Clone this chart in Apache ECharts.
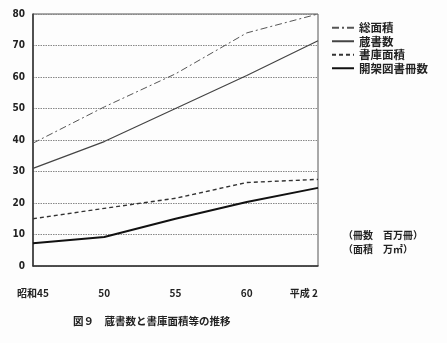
<!DOCTYPE html>
<html><head><meta charset="utf-8">
<script src="https://cdn.jsdelivr.net/npm/echarts@6/dist/echarts.min.js"></script>
<style>html,body{margin:0;padding:0;background:#fdfdfd}#c{width:447px;height:343px}</style>
</head><body><div id="c"></div>
<script>
const categories = ['昭和45', '50', '55', '60', '平成 2'];
const totalArea = [39, 50.5, 61, 74, 80];      // 総面積
const holdings = [31, 39.5, 50, 60.5, 71.5];   // 蔵書数
const stackArea = [15, 18.3, 21.5, 26.5, 27.5]; // 書庫面積
const openShelf = [7.2, 9.2, 15, 20.3, 24.8];  // 開架図書冊数
const yTicks = [0, 10, 20, 30, 40, 50, 60, 70, 80];

const jp = '"Noto Sans CJK JP", sans-serif';
const chart = echarts.init(document.getElementById('c'));
chart.setOption({
  backgroundColor: '#fdfdfd',
  animation: false,
  grid: {left: 33, right: 129, top: 14, bottom: 77, show: true, borderColor: '#555', borderWidth: 1, backgroundColor: 'transparent'},
  legend: {
    orient: 'vertical', left: 326, top: 17, itemGap: 2, itemWidth: 22, itemHeight: 10,
    itemStyle: {color: 'transparent', borderColor: 'transparent', borderWidth: 0},
    textStyle: {fontFamily: jp, fontSize: 11.5, color: '#222', fontWeight: 'bold'},
    data: ['総面積', '蔵書数', '書庫面積', '開架図書冊数']
  },
  xAxis: {
    type: 'category', data: categories, boundaryGap: false,
    axisLine: {lineStyle: {color: '#333', width: 1.5}},
    axisTick: {show: false},
    axisLabel: {margin: 22, fontFamily: jp, fontSize: 10, color: '#222', fontWeight: 'bold', alignMaxLabel: 'right'}
  },
  yAxis: {
    type: 'value', min: 0, max: 80, interval: 10,
    axisLine: {show: true, lineStyle: {color: '#333', width: 1.5}},
    axisTick: {show: false},
    axisLabel: {margin: 8, fontFamily: '"DejaVu Sans Condensed", sans-serif', fontSize: 10, color: '#222', fontWeight: 'bold',
      formatter: v => yTicks.includes(v) ? String(v) : ''},
    splitLine: {lineStyle: {color: '#888', type: [1.5, 1], width: 1}}
  },
  series: [
    {name: '総面積', type: 'line', data: totalArea, symbol: 'none',
      lineStyle: {color: '#555', width: 1, type: [7, 3, 2, 3]}, itemStyle: {color: '#555'}},
    {name: '蔵書数', type: 'line', data: holdings, symbol: 'none',
      lineStyle: {color: '#444', width: 1.2}, itemStyle: {color: '#444'}},
    {name: '書庫面積', type: 'line', data: stackArea, symbol: 'none',
      lineStyle: {color: '#333', width: 1.4, type: [4, 3]}, itemStyle: {color: '#333'}},
    {name: '開架図書冊数', type: 'line', data: openShelf, symbol: 'none',
      lineStyle: {color: '#111', width: 2}, itemStyle: {color: '#111'}}
  ],
  graphic: [
    {type: 'text', left: 343, top: 230, style: {text: '（冊数　百万冊）', font: 'bold 10px ' + jp, fill: '#222'}},
    {type: 'text', left: 343, top: 244, style: {text: '（面積　万㎡）', font: 'bold 10px ' + jp, fill: '#222'}},
    {type: 'text', left: 73, top: 316, style: {text: '図９　蔵書数と書庫面積等の推移', font: 'bold 10.5px ' + jp, fill: '#222'}}
  ]
});
</script></body></html>
